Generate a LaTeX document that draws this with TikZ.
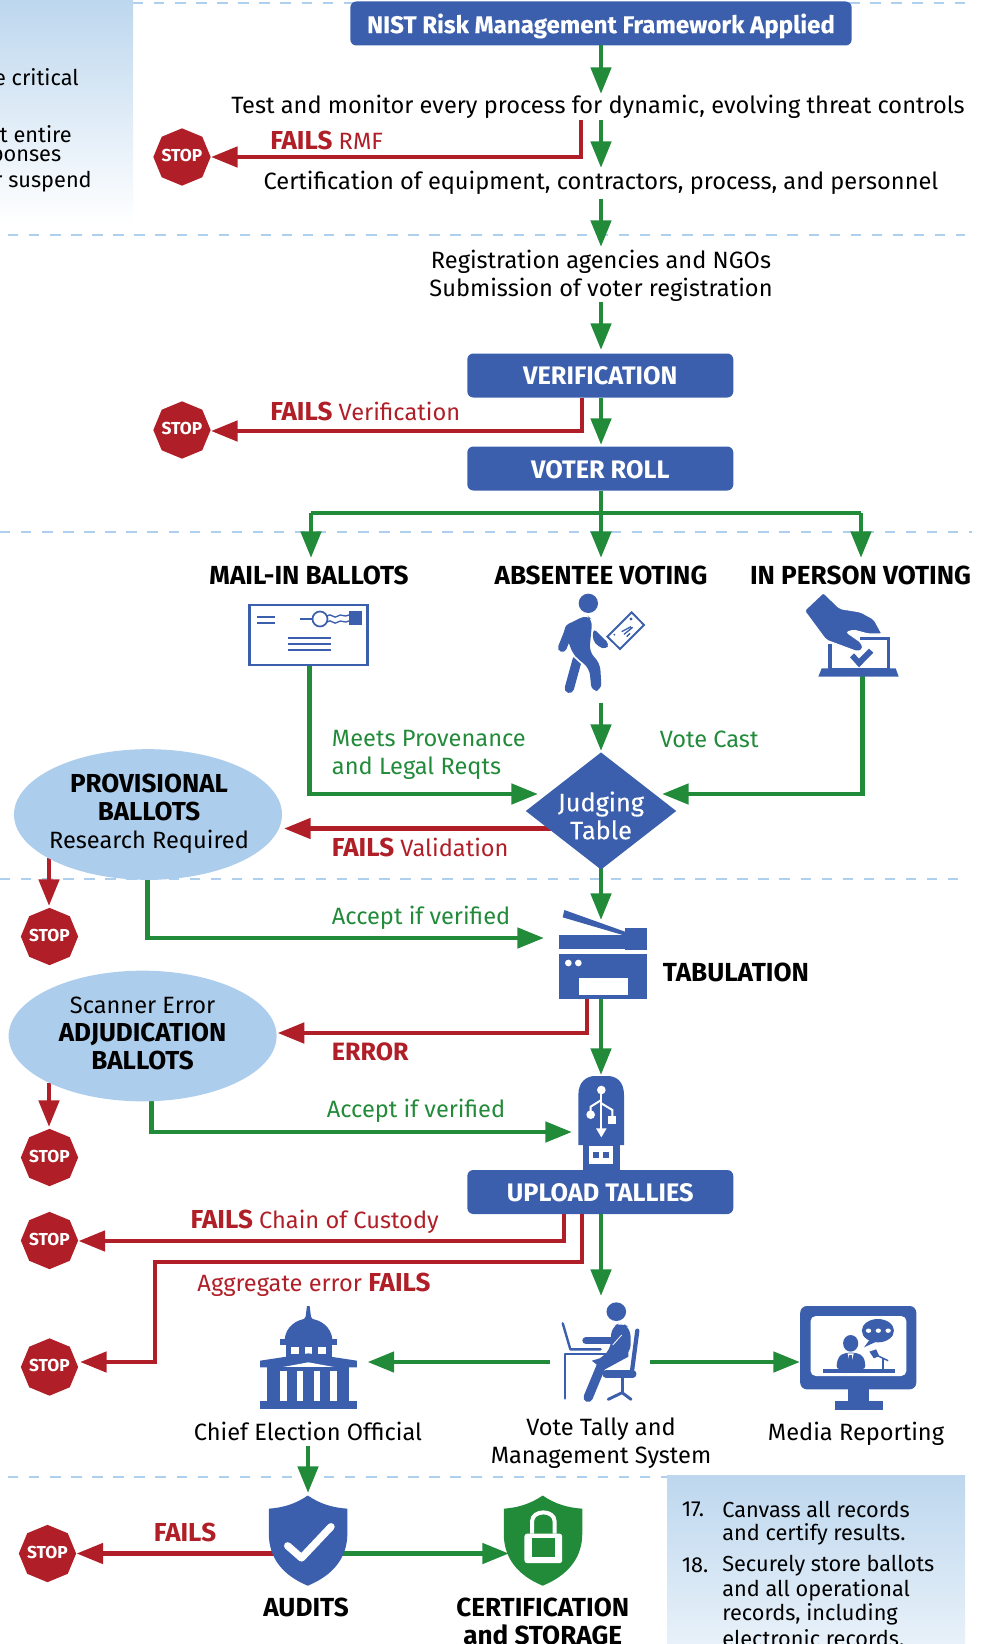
\documentclass[tikz,border=0pt]{standalone}
\usepackage{fontspec}
\setmainfont{Fira Sans}
\newfontfamily\medfam[FakeBold=0.15]{Fira Sans}
\usetikzlibrary{arrows.meta,shapes.geometric,calc}
\definecolor{vblue}{HTML}{3B5FAC}
\definecolor{vgreen}{HTML}{228B3A}
\definecolor{vred}{HTML}{B01F27}
\definecolor{vdash}{HTML}{AFCFEF}
\definecolor{vell}{HTML}{ADCDEC}
\definecolor{vpan}{HTML}{BDD7EE}
\newcommand{\bfbig}[1]{{\fontsize{19.5}{21}\selectfont\bfseries #1}}
\newcommand{\stoptxt}{\raisebox{-7pt}{\smash{\makebox[0pt]{STOP}}}}
\tikzset{
 garrow/.style={draw=vgreen,line width=3.6pt,-{Triangle[length=20pt,width=15pt]}},
 rarrow/.style={draw=vred,line width=3.6pt,-{Triangle[length=20pt,width=15pt]}},
 sepline/.style={draw=vdash,line width=2.1pt,dash pattern=on 7.8pt off 8pt},
 txtbase/.style={inner sep=0pt,align=center,font=\fontsize{17.7}{21}\selectfont},
 txt/.style={txtbase,yshift=-1.5pt},
 pantxt/.style={inner sep=0pt,anchor=west,align=left,font=\fontsize{16.3}{21}\selectfont},
 txtl/.style={txt,anchor=west,align=left},
 gtxt/.style={txtl,text=vgreen},
 rtxt/.style={txtbase,anchor=west,align=left,text=vred},
 head/.style={txtbase,yshift=-0.7pt,font=\fontsize{19.6}{21}\selectfont\bfseries},
 bluebox/.style={fill=vblue,draw=none,rounded corners=4.5pt,text=white,inner sep=0pt,minimum width=199.5pt,minimum height=33pt,font=\fontsize{19}{20}\selectfont\bfseries},
 stopsign/.style={regular polygon,regular polygon sides=8,shape border rotate=22.5,fill=vred,draw=none,inner sep=0pt,minimum size=43pt,text=white,font=\fontsize{13}{14}\selectfont\bfseries},
 bubble/.style={ellipse,fill=vell,draw=none,inner sep=0pt,minimum width=201pt,minimum height=98pt},
 blueline/.style={draw=vblue,line cap=round,line join=round},
}
\begin{document}
\begin{tikzpicture}[x=0.75pt,y=-0.75pt]
\clip (0,0) rectangle (985,1644);
\useasboundingbox (0,0) rectangle (985,1644);
% separators
\coordinate (sepA1) at (133,3);   \coordinate (sepA2) at (965,3);
\coordinate (sepB1) at (8,235);   \coordinate (sepB2) at (965,235);
\coordinate (sepC1) at (0,532);   \coordinate (sepC2) at (972,532);
\coordinate (sepD1) at (0,879);   \coordinate (sepD2) at (965,879);
\coordinate (sepE1) at (8,1477);  \coordinate (sepE2) at (667,1477);
\draw[sepline] (sepA1) -- (sepA2);
\draw[sepline] (sepB1) -- (sepB2);
\draw[sepline] (sepC1) -- (sepC2);
\draw[sepline] (sepD1) -- (sepD2);
\draw[sepline] (sepE1) -- (sepE2);
% side panels
\shade[top color=vpan,bottom color=white] (0,0) rectangle (133,225);
\shade[top color=vpan,bottom color=vpan!35!white] (667,1475) rectangle (965,1644);
\node[pantxt,anchor=east] (pa) at (79,77.5) {e critical};
\node[pantxt,anchor=east] (pb) at (72,134) {ut entire};
\node[pantxt,anchor=east] (pc) at (61.5,158) {ponses};
\node[pantxt,anchor=east] (pd) at (92,182) {r suspend};
\node[pantxt] (n17) at (681.5,1509.5) {17.};
\node[pantxt] (p17a) at (722,1509.5) {Canvass all records};
\node[pantxt] (p17b) at (722,1534) {and certify results.};
\node[pantxt] (n18) at (681.5,1565.5) {18.};
\node[pantxt] (p18a) at (722,1565.5) {Securely store ballots};
\node[pantxt] (p18b) at (722,1590) {and all operational};
\node[pantxt] (p18c) at (722,1614) {records, including};
\node[pantxt] (p18d) at (722,1638) {electronic records.};
% main nodes
\node[bluebox,minimum width=376pt,text height=18pt,text depth=3.6pt] (nist) at (601,23.5) {\fontsize{18.1}{20}\selectfont\medfam NIST Risk Management Framework Applied};
\node[txt] (test) at (598,105) {Test and monitor every process for dynamic, evolving threat controls};
\node[txt] (cert) at (601,181) {Certification of equipment, contractors, process, and personnel};
\node[txt] (reg) at (601,274) {Registration agencies and NGOs\\Submission of voter registration};
\node[bluebox] (verif) at (600.3,375.5) {VERIFICATION};
\node[bluebox,text height=14.7pt,text depth=0pt] (roll) at (600.3,468.5) {VOTER ROLL};
\node[bluebox,text height=14.7pt,text depth=0pt] (upload) at (600.3,1192) {UPLOAD TALLIES};
\node[stopsign] (stopA) at (182,157) {\stoptxt};
\node[stopsign] (stopB) at (182,430) {\stoptxt};
\node[stopsign] (stopC) at (49.5,936.5) {\stoptxt};
\node[stopsign] (stopD) at (49.5,1157.5) {\stoptxt};
\node[stopsign] (stopE) at (49.5,1240.5) {\stoptxt};
\node[stopsign] (stopF) at (49.5,1367) {\stoptxt};
\node[stopsign] (stopG) at (47.5,1553.5) {\stoptxt};
% connector end points
\coordinate (nistB) at (601,45);
\coordinate (tipA) at (601,94);
\coordinate (testG) at (601,120);  \coordinate (certT) at (601,168);
\coordinate (testR) at (581,120);  \coordinate (failA) at (581,157);
\coordinate (certG) at (601,199);  \coordinate (regT) at (601,247);
\coordinate (regG) at (601,302);   \coordinate (verT) at (601,350);
\coordinate (failB0) at (582,398); \coordinate (failB) at (582,431);
\coordinate (verG) at (601,398);
\coordinate (rollT) at (601,445);
\coordinate (rollG) at (601,491);
\coordinate (brC) at (601,513); \coordinate (brL) at (311,513); \coordinate (brR) at (861,513);
\coordinate (tipL) at (311,558); \coordinate (tipC) at (601,558); \coordinate (tipR) at (861,558);
\coordinate (absB) at (601,702.5);
\coordinate (judT) at (601,751);
\coordinate (mailB) at (309.5,666); \coordinate (mailC) at (309.5,794); \coordinate (judL) at (538,794);
\coordinate (inpB) at (862.5,676);  \coordinate (inpC) at (862.5,794); \coordinate (judR) at (662,794);
\coordinate (valS) at (553,828.5); \coordinate (valT) at (284,828.5);
\coordinate (prS) at (49,858); \coordinate (prT) at (49,906);
\coordinate (acS) at (147.6,875); \coordinate (acC) at (147.6,938); \coordinate (acT) at (544,938);
\coordinate (judB) at (601,865); \coordinate (scT) at (601,920);
\coordinate (scR) at (587,998); \coordinate (scRc) at (587,1033); \coordinate (errT) at (277.6,1033);
\coordinate (scG) at (601,998); \coordinate (usbT) at (601,1075);
\coordinate (adS) at (49,1083); \coordinate (adT) at (49,1127);
\coordinate (bcS) at (151.4,1097); \coordinate (bcC) at (151.4,1132); \coordinate (bcT) at (572,1132);
\coordinate (upR1) at (564,1214); \coordinate (upR1c) at (564,1241);
\coordinate (upR2) at (582,1214); \coordinate (upR2c) at (582,1262); \coordinate (upR2d) at (155,1262); \coordinate (upR2e) at (155,1362); \coordinate (upR2f) at (80,1362);
\coordinate (upG) at (601,1214);
\coordinate (upT) at (601,1296);
\coordinate (talL) at (550,1362); \coordinate (chiefT) at (367.5,1362);
\coordinate (talR) at (650,1362); \coordinate (medT) at (800,1362);
\coordinate (chiefB) at (308,1446); \coordinate (audT) at (308,1493);
\coordinate (audL) at (278,1553.5);
\coordinate (audR) at (342,1553.5); \coordinate (cerT) at (509,1553.5);
% connectors
\draw[garrow] (nistB) -- (tipA);
\draw[garrow] (testG) -- (certT);
\draw[rarrow] (testR) -- (failA) -- (stopA.east);
\draw[garrow] (certG) -- (regT);
\draw[garrow] (regG) -- (verT);
\draw[rarrow] (failB0) -- (failB) -- (stopB.east |- failB);
\draw[garrow] (verG) -- (rollT);
\draw[draw=vgreen,line width=3.6pt] (brL) -- (brR);
\draw[draw=vgreen,line width=3.6pt] (rollG) -- (brC);
\draw[garrow] (brL) -- (tipL);
\draw[garrow] (brC) -- (tipC);
\draw[garrow] (brR) -- (tipR);
\draw[garrow] (mailB) -- (mailC) -- (judL);
\draw[garrow] (inpB) -- (inpC) -- (judR);
\draw[garrow] (absB) -- (judT);
\draw[rarrow] (valS) -- (valT);
\draw[rarrow] (prS) -- (prT);
\draw[garrow] (acS) -- (acC) -- (acT);
\draw[garrow] (judB) -- (scT);
\draw[rarrow] (scR) -- (scRc) -- (errT);
\draw[garrow] (scG) -- (usbT);
\draw[rarrow] (adS) -- (adT);
\draw[garrow] (bcS) -- (bcC) -- (bcT);
\draw[rarrow] (upR1) -- (upR1c) -- (stopE.east |- upR1c);
\draw[rarrow] (upR2) -- (upR2c) -- (upR2d) -- (upR2e) -- (upR2f);
\draw[garrow] (upG) -- (upT);
\draw[garrow] (talL) -- (chiefT);
\draw[garrow] (talR) -- (medT);
\draw[garrow] (chiefB) -- (audT);
\draw[rarrow] (audL) -- (stopG.east);
\draw[garrow] (audR) -- (cerT);
% judging table + bubbles
\node[diamond,fill=vblue,inner sep=0pt,minimum width=113pt,minimum height=88pt,aspect=1.28] (judge) at (601,811) {};
\node[txt,text=white,font=\fontsize{19}{21}\selectfont\medfam] (judgeT) at (601,813.5) {Judging\\Table};
\node[bubble] (prov) at (148,814.5) {};
\node[txt] (provT) at (149,812) {\bfbig{PROVISIONAL}\\\bfbig{BALLOTS}\\Research Required};
\node[bubble] (adju) at (142.6,1036) {};
\node[txt] (adjuT) at (142.6,1031) {Scanner Error\\\bfbig{ADJUDICATION}\\\bfbig{BALLOTS}};
% labels
\node[rtxt] (lA) at (270,140.5) {\bfbig{FAILS} RMF};
\node[rtxt] (lB) at (270,411.5) {\bfbig{FAILS} Verification};
\node[head] (hMail) at (309,574.5) {MAIL-IN BALLOTS};
\node[head] (hAbs) at (601,574.5) {ABSENTEE VOTING};
\node[head] (hPers) at (860.5,574.5) {IN PERSON VOTING};
\node[gtxt] (lMeet) at (331.7,753) {Meets Provenance\\and Legal Reqts};
\node[gtxt] (lCast) at (659.5,737) {Vote Cast};
\node[rtxt] (lVal) at (331.7,847) {\bfbig{FAILS} Validation};
\node[gtxt] (lAcc) at (331.7,916) {Accept if verified};
\node[head,anchor=west] (lTab) at (662.7,971.5) {TABULATION};
\node[rtxt] (lErr) at (331.7,1052) {\fontsize{18.8}{21}\selectfont\bfseries ERROR};
\node[gtxt] (lAcc2) at (326.6,1109) {Accept if verified};
\node[txt,text=vred] (lCh) at (314.7,1219.7) {\bfbig{FAILS} Chain of Custody};
\node[txt,text=vred] (lAg) at (314,1283) {Aggregate error \bfbig{FAILS}};
\node[txt] (lChief) at (308,1429.5) {Chief Election Official};
\node[txt] (lTally) at (601,1441) {Vote Tally and\\Management System};
\node[txt] (lMedia) at (856,1432) {Media Reporting};
\node[txt,text=vred] (lF) at (185,1530) {\bfbig{FAILS}};
\node[head] (lAud) at (306,1606) {AUDITS};
\node[head] (lCert) at (542.7,1620.5) {CERTIFICATION\\and STORAGE};
% mail icon
\node[draw=vblue,fill=white,line width=1.6pt,inner sep=0pt,minimum width=88.5pt,minimum height=45.5pt] (mail) at (308.5,635) {};
\fill[vblue] (349,611) rectangle (362,625);
\draw[vblue,line width=1.3pt] (300,619) -- (312,619);
\draw[vblue,line width=1.3pt] (320,619) circle (7.5);
\draw[vblue,line width=1pt] (327,616) .. controls (331,612) and (334,620) .. (338,616) .. controls (341,613) and (344,618) .. (349,615);
\draw[vblue,line width=1pt] (327,622) .. controls (331,618) and (334,626) .. (338,622) .. controls (341,619) and (344,624) .. (349,621);
\foreach \yy in {617,623} \draw[vblue,line width=1.3pt] (257,\yy) -- (275,\yy);
\foreach \yy in {638,644,650} \draw[vblue,line width=1.3pt] (288,\yy) -- (331,\yy);
% walking voter + envelope (crop coordinates)
\begin{scope}[shift={(520,570)},x=0.25pt,y=-0.25pt]
\fill[vblue] (205,100) circle (29);
\fill[vblue,rounded corners=5pt] (128,170) -- (200,135) -- (217,150) -- (208,245) -- (240,280) -- (245,360) -- (215,365) -- (208,295) -- (160,255) -- cycle;
\draw[blueline,line width=6.5pt] (150,175) -- (127,233);
\draw[blueline,line width=7pt] (172,268) -- (148,355);
\draw[white,line width=1.2pt] (158,255) -- (190,285);
\fill[vblue,rounded corners=3pt] (220,175) -- (268,222) -- (258,238) -- (235,230) -- (218,210) -- cycle;
\draw[vblue,line width=1.4pt,fill=white] (335,127) -- (372,165) -- (300,237) -- (262,200) -- cycle;
\fill[vblue] (333,147) circle (5);
\fill[vblue] (283,194) circle (3);
\draw[vblue,line width=1pt] (305,185) -- (333,170) (312,193) -- (338,172) (320,200) -- (330,190);
\end{scope}
% ballot box + hand
\begin{scope}[shift={(520,570)},x=0.25pt,y=-0.25pt]
\draw[vblue,line width=2.4pt] (930,222) -- (930,300) -- (1105,300) -- (1105,205) -- (1020,205);
\fill[vblue] (905,295) -- (1127,295) -- (1136,320) -- (895,320) -- cycle;
\fill[vblue] (990,262) -- (1002,250) -- (1017,266) -- (1047,236) -- (1060,248) -- (1017,292) -- cycle;
\filldraw[fill=vblue,draw=white,line width=0.8pt,rounded corners=1.5pt] (910,68) -- (853,122) -- (918,210) -- (1012,245) -- (1029,238) -- (1024,218) -- (980,187) -- (1000,180) -- (1045,192) -- (1086,192) -- (1062,148) -- (1022,126) -- (960,116) -- cycle;
\end{scope}
% scanner
\begin{scope}[shift={(530,890)},x=0.25pt,y=-0.25pt]
\fill[vblue] (103,60) -- (98,82) -- (285,137) -- (285,125) -- cycle;
\fill[vblue] (87,135) rectangle (285,177);
\fill[vblue] (285,114) rectangle (351,180);
\fill[vblue] (88,192) rectangle (352,328);
\fill[white] (115,219) circle (10);
\fill[white] (145,219) circle (10);
\fill[white] (146,264) rectangle (294,314);
\end{scope}
% usb stick
\begin{scope}[shift={(530,890)},x=0.25pt,y=-0.25pt]
\fill[vblue] (145,765) -- (145,615) .. controls (145,575) and (170,558) .. (195,558) -- (232,558) .. controls (260,558) and (282,575) .. (282,615) -- (282,765) -- cycle;
\fill[vblue] (158,765) rectangle (270,845);
\fill[white] (178,767) rectangle (248,823);
\fill[vblue] (190,787) rectangle (206,805);
\fill[vblue] (220,787) rectangle (237,805);
\fill[white] (214,600) circle (13);
\draw[white,line width=1.5pt] (214,600) -- (214,720);
\fill[white] (198,715) -- (230,715) -- (214,742) -- cycle;
\draw[white,line width=1.5pt] (214,630) -- (182,650) -- (182,672);
\fill[white] (182,674) circle (13);
\draw[white,line width=1.5pt] (214,640) -- (247,660) -- (247,680);
\fill[white] (235,678) rectangle (259,702);
\end{scope}
% capitol (crop coordinates: x squeezed)
\begin{scope}[shift={(240,1290)},x=0.3348pt,y=-0.25pt]
\fill[vblue] (150,48) -- (156,48) -- (159,80) -- (165,92) -- (141,92) -- (147,80) -- cycle;
\fill[vblue] (100,148) .. controls (103,110) and (125,88) .. (153,85) .. controls (181,88) and (204,110) .. (207,148) -- cycle;
\fill[vblue] (90,146) rectangle (217,166);
\fill[vblue] (103,166) rectangle (205,200);
\foreach \xx in {115,145,175} \fill[white] (\xx,170) rectangle ++(17,22);
\fill[vblue] (45,212) -- (153,190) -- (262,212) -- (262,232) -- (45,232) -- cycle;
\fill[white] (92,232) -- (153,217) -- (215,232) -- cycle;
\fill[vblue] (60,232) rectangle (245,336);
\foreach \xx in {90,127,165,202} \fill[white] (\xx,242) rectangle ++(15,94);
\fill[vblue] (45,334) rectangle (262,356);
\end{scope}
% tally operator
\begin{scope}[shift={(240,1290)},x=0.3348pt,y=-0.25pt]
\fill[vblue] (843,65) ellipse (22 and 28);
\fill[vblue,rounded corners=6pt] (832,110) -- (855,97) -- (875,115) -- (875,190) -- (828,212) -- (790,222) -- (830,180) -- cycle;
\draw[blueline,line width=7pt] (810,225) -- (780,322);
\fill[vblue] (788,212) -- (870,180) -- (870,200) -- (815,240) -- cycle;
\draw[blueline,line width=5.5pt] (775,152) -- (835,152);
\draw[white,line width=.6pt] (835,165) -- (855,135);
\draw[blueline,line width=3.2pt] (890,122) -- (878,245);
\draw[blueline,line width=5.5pt] (820,252) -- (880,252);
\draw[blueline,line width=2.4pt] (856,262) -- (856,308);
\draw[blueline,line width=2.2pt] (825,328) -- (856,308) -- (876,328);
\draw[blueline,line width=1.8pt] (723,100) -- (740,178) -- (808,178);
\draw[blueline,line width=2.2pt] (728,325) -- (728,192) -- (818,192);
\end{scope}
% media monitor
\begin{scope}[shift={(240,1290)},x=0.3348pt,y=-0.25pt]
\fill[vblue,rounded corners=5pt] (1255,48) rectangle (1515,298);
\fill[white,rounded corners=4pt] (1278,78) rectangle (1493,258);
\fill[vblue] (1362,298) rectangle (1410,332);
\fill[vblue] (1333,332) rectangle (1440,359);
\fill[vblue] (1305,238) rectangle (1467,249);
\fill[vblue] (1368,160) ellipse (17 and 25);
\fill[vblue,rounded corners=3pt] (1335,238) -- (1340,200) -- (1355,188) -- (1382,188) -- (1398,200) -- (1402,238) -- cycle;
\fill[white] (1361,190) -- (1375,190) -- (1368,225) -- cycle;
\fill[vblue] (1365,196) rectangle (1371,225);
\fill[vblue] (1410,185) -- (1425,178) -- (1432,198) -- (1420,205) -- cycle;
\draw[vblue,line width=1.1pt] (1425,195) -- (1452,212);
\draw[vblue,line width=1.3pt] (1440,205) -- (1440,238);
\fill[vblue] (1429,122) ellipse (36 and 35);
\fill[vblue] (1410,150) -- (1398,172) -- (1430,152) -- cycle;
\foreach \xx in {1408,1430,1452} \fill[white] (\xx,122) ellipse (6 and 6.5);
\end{scope}
% shields
\begin{scope}[shift={(0,1100)},x=0.4711pt,y=-0.2602pt]
\fill[vblue] (490,1140) .. controls (470,1165) and (450,1175) .. (428,1178) -- (428,1250) .. controls (428,1320) and (450,1370) .. (490,1400) .. controls (530,1370) and (553,1320) .. (553,1250) -- (553,1178) .. controls (530,1175) and (510,1165) .. (490,1140) -- cycle;
\draw[white,line width=5.5pt,line cap=round,line join=round] (458,1285) -- (480,1320) -- (527,1230);
\begin{scope}[shift={(374,0)}]
\fill[vgreen] (490,1140) .. controls (470,1165) and (450,1175) .. (428,1178) -- (428,1250) .. controls (428,1320) and (450,1370) .. (490,1400) .. controls (530,1370) and (553,1320) .. (553,1250) -- (553,1178) .. controls (530,1175) and (510,1165) .. (490,1140) -- cycle;
\fill[white,rounded corners=2pt] (461,1250) rectangle (521,1335);
\fill[vgreen] (473,1262) rectangle (509,1318);
\draw[white,line width=3pt] (473,1250) -- (473,1215) .. controls (473,1180) and (509,1180) .. (509,1215) -- (509,1250);
\end{scope}
\end{scope}
\end{tikzpicture}
\end{document}
